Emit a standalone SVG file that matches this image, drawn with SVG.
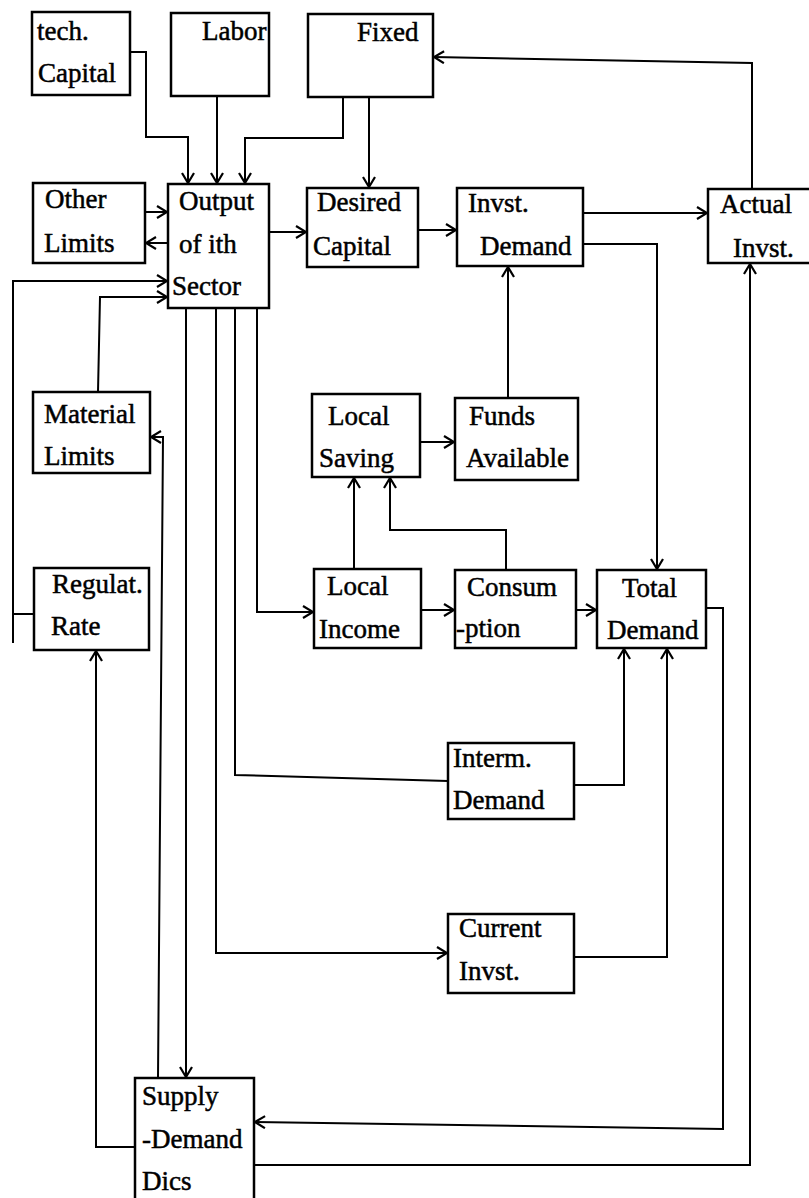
<svg xmlns="http://www.w3.org/2000/svg" width="809" height="1198" viewBox="0 0 809 1198">
<style>
.box{fill:#fff;stroke:#000;stroke-width:2.5}
.t{font-family:'Liberation Serif','DejaVu Serif',serif;font-size:27px;fill:#000;stroke:#000;stroke-width:0.5}
.c{fill:none;stroke:#000;stroke-width:2}
.a{marker-end:url(#arr)}
</style>
<defs>
<marker id="arr" markerUnits="userSpaceOnUse" markerWidth="14" markerHeight="14" refX="0" refY="0" viewBox="-12 -7 14 14" orient="auto">
<path d="M-10,-6 L0,0 L-10,6" fill="none" stroke="#000" stroke-width="2.2"/>
</marker>
</defs>
<rect width="809" height="1198" fill="#fff"/>
<g id="connectors">
<path class="c a" d="M130,52 H146 V137 H188 V183"/>
<path class="c a" d="M217,96 V183"/>
<path class="c a" d="M343,97 V138 H245 V183"/>
<path class="c a" d="M369,97 V187"/>
<path class="c a" d="M752,189 V63 L434,57"/>
<path class="c a" d="M145,212 H167"/>
<path class="c a" d="M168,243 H146"/>
<path class="c" d="M34,614 H13"/>
<path class="c a" d="M13,643 V281 H167"/>
<path class="c a" d="M98,392 L100,297 H167"/>
<path class="c a" d="M269,232 H306"/>
<path class="c a" d="M418,230 H456"/>
<path class="c a" d="M583,213 H707"/>
<path class="c a" d="M583,244 H657 V569"/>
<path class="c a" d="M508,398 V267"/>
<path class="c a" d="M254,1165 H750 V264"/>
<path class="c a" d="M257,308 V612 H313"/>
<path class="c" d="M235,308 V775 L448,781"/>
<path class="c a" d="M216,308 V953 H447"/>
<path class="c a" d="M186,308 V1077"/>
<path class="c a" d="M158,1078 L163,437 H151"/>
<path class="c a" d="M135,1147 H96 V651"/>
<path class="c a" d="M354,569 V478"/>
<path class="c a" d="M506,570 V530 H390 V478"/>
<path class="c a" d="M420,442 H454"/>
<path class="c a" d="M421,610 H454"/>
<path class="c a" d="M576,610 H596"/>
<path class="c a" d="M574,785 H624 V649"/>
<path class="c a" d="M574,957 H667 V649"/>
<path class="c a" d="M706,608 H723 V1129 L255,1122"/>
</g>
<g id="tech-capital"><rect class="box" x="32" y="12" width="98" height="83"/><text class="t" x="37" y="40">tech.</text><text class="t" x="38" y="82">Capital</text></g>
<g id="labor"><rect class="box" x="171" y="13" width="98" height="83"/><text class="t" x="202" y="40">Labor</text></g>
<g id="fixed"><rect class="box" x="308" y="14" width="125" height="83"/><text class="t" x="357" y="41">Fixed</text></g>
<g id="other-limits"><rect class="box" x="33" y="183" width="112" height="80"/><text class="t" x="45" y="208">Other</text><text class="t" x="44" y="252">Limits</text></g>
<g id="output"><rect class="box" x="168" y="184" width="101" height="124"/><text class="t" x="179" y="210">Output</text><text class="t" x="179" y="253">of ith</text><text class="t" x="172" y="295">Sector</text></g>
<g id="desired-capital"><rect class="box" x="307" y="188" width="111" height="79"/><text class="t" x="317" y="211">Desired</text><text class="t" x="313" y="255">Capital</text></g>
<g id="invst-demand"><rect class="box" x="457" y="188" width="126" height="78"/><text class="t" x="468" y="212">Invst.</text><text class="t" x="480" y="255">Demand</text></g>
<g id="actual-invst"><rect class="box" x="708" y="189" width="106" height="74"/><text class="t" x="720" y="213">Actual</text><text class="t" x="733" y="257">Invst.</text></g>
<g id="material-limits"><rect class="box" x="33" y="392" width="117" height="81"/><text class="t" x="44" y="423">Material</text><text class="t" x="44" y="465">Limits</text></g>
<g id="local-saving"><rect class="box" x="312" y="394" width="108" height="83"/><text class="t" x="328" y="425">Local</text><text class="t" x="319" y="467">Saving</text></g>
<g id="funds-available"><rect class="box" x="455" y="398" width="123" height="82"/><text class="t" x="469" y="425">Funds</text><text class="t" x="466" y="467">Available</text></g>
<g id="regulat-rate"><rect class="box" x="34" y="568" width="115" height="82"/><text class="t" x="52" y="593">Regulat.</text><text class="t" x="51" y="635">Rate</text></g>
<g id="local-income"><rect class="box" x="314" y="569" width="107" height="79"/><text class="t" x="327" y="595">Local</text><text class="t" x="319" y="638">Income</text></g>
<g id="consumption"><rect class="box" x="455" y="570" width="121" height="78"/><text class="t" x="467" y="596">Consum</text><text class="t" x="456" y="637">-ption</text></g>
<g id="total-demand"><rect class="box" x="597" y="570" width="109" height="78"/><text class="t" x="622" y="597">Total</text><text class="t" x="607" y="639">Demand</text></g>
<g id="interm-demand"><rect class="box" x="448" y="743" width="126" height="76"/><text class="t" x="453" y="767">Interm.</text><text class="t" x="453" y="809">Demand</text></g>
<g id="current-invst"><rect class="box" x="448" y="914" width="126" height="79"/><text class="t" x="459" y="937">Current</text><text class="t" x="459" y="980">Invst.</text></g>
<g id="supply-demand"><rect class="box" x="135" y="1078" width="119" height="135"/><text class="t" x="142" y="1105">Supply</text><text class="t" x="142" y="1148">-Demand</text><text class="t" x="142" y="1190">Dics</text></g>
</svg>
